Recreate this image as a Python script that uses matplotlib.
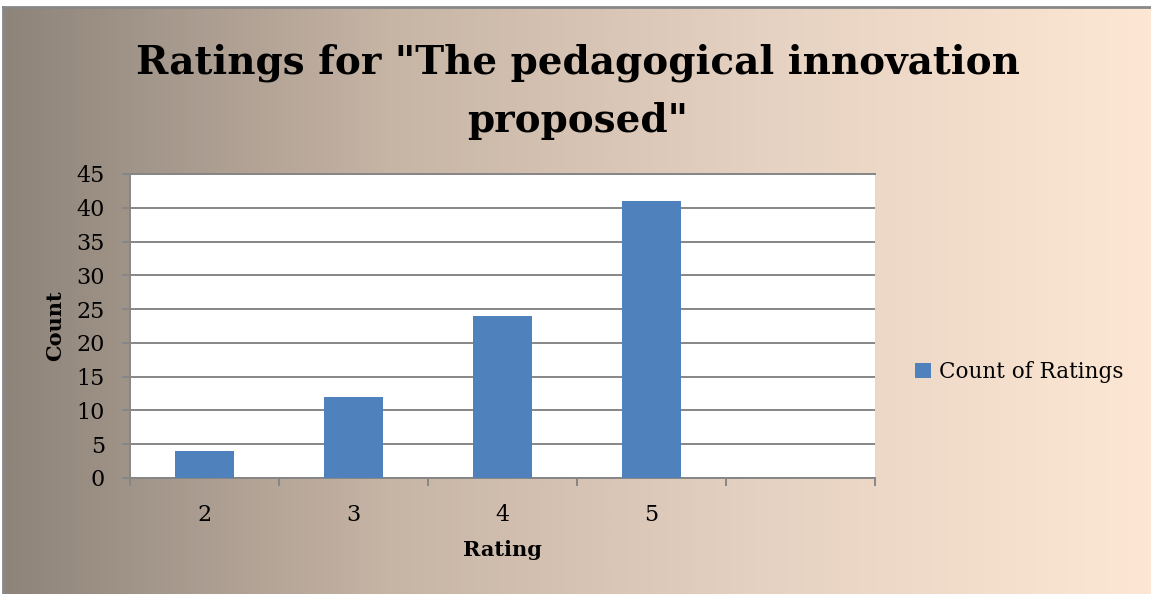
import numpy as np
import matplotlib
matplotlib.use("Agg")
import matplotlib.pyplot as plt
from matplotlib.patches import Patch
from matplotlib.colors import LinearSegmentedColormap

# Chart data
categories = ["2", "3", "4", "5", ""]
counts = [4, 12, 24, 41]
series_name = "Count of Ratings"
y_ticks = [0, 5, 10, 15, 20, 25, 30, 35, 40, 45]
title_lines = ['Ratings for "The pedagogical innovation', 'proposed"']

W, H = 1151, 594
fig = plt.figure(figsize=(W / 100, H / 100), dpi=100)
fig.patch.set_facecolor("white")

FONT = "DejaVu Serif"
GRID = "#868686"
BAR = "#4f81bd"

# Gradient background of the chart area
bg = fig.add_axes([4 / W, 0, 1 - 4 / W, (H - 8) / H], zorder=0)
cmap = LinearSegmentedColormap.from_list(
    "bg", ["#8e847a", "#c6b4a5", "#e6d2c2", "#fde7d4"])
bg.imshow(np.linspace(0, 1, 512)[None, :], aspect="auto", cmap=cmap,
          extent=[0, 1, 0, 1])
bg.set_axis_off()

# Thin frame lines along the top and left edges
fig.add_artist(plt.Line2D([3 / W, 1], [1 - 7 / H, 1 - 7 / H], color="#888888",
                          lw=2, transform=fig.transFigure, zorder=1))
fig.add_artist(plt.Line2D([3 / W, 3 / W], [0, 1 - 7 / H], color="#888888",
                          lw=2, transform=fig.transFigure, zorder=1))

# Plot area
left, right, top, bottom = 130, 875, 174, 478
ax = fig.add_axes([left / W, 1 - bottom / H, (right - left) / W, (bottom - top) / H],
                  zorder=2)
ax.set_facecolor("white")

n = len(categories)
centers = np.arange(len(counts)) + 0.5
ax.bar(centers, counts, width=0.4, color=BAR, zorder=3, label=series_name)

ax.set_xlim(0, n)
ax.set_ylim(0, 45)
ax.set_yticks(y_ticks)
ax.yaxis.grid(True, color=GRID, lw=1.4)
ax.set_axisbelow(True)

# Category boundaries as major ticks, labels at category centres
ax.set_xticks(np.arange(n + 1))
ax.set_xticklabels([])
ax.set_xticks(np.arange(n) + 0.5, minor=True)
ax.set_xticklabels(categories, minor=True, fontsize=16, family=FONT)
ax.tick_params(axis="x", which="major", length=6, width=1.4, color=GRID)
ax.tick_params(axis="x", which="minor", length=0, pad=19)
ax.tick_params(axis="y", length=6, width=1.4, color=GRID, pad=12)
for lab in ax.get_yticklabels():
    lab.set_fontsize(16)
    lab.set_family(FONT)

for s in ["left", "bottom", "top"]:
    ax.spines[s].set_color(GRID)
    ax.spines[s].set_linewidth(1.4)
ax.spines["right"].set_visible(False)

# Two-line title
for text, base_y in zip(title_lines, [74, 132]):
    fig.text(578 / W, 1 - base_y / H, text, ha="center", va="baseline",
             fontsize=28, fontweight="bold", family=FONT)

fig.text(55 / W, 1 - 326 / H, "Count", rotation=90, ha="center", va="center",
         fontsize=15, fontweight="bold", family=FONT)
fig.text(502 / W, 1 - 550 / H, "Rating", ha="center", va="center",
         fontsize=15, fontweight="bold", family=FONT)

# Legend
fig.legend(handles=[Patch(facecolor=BAR, label=series_name)],
           loc="center left", bbox_to_anchor=(915 / W, 1 - 372 / H),
           frameon=False, prop={"family": FONT, "size": 15.5},
           handlelength=0.75, handleheight=0.75, handletextpad=0.35,
           borderpad=0, borderaxespad=0)

fig.savefig("out.png", dpi=100)
